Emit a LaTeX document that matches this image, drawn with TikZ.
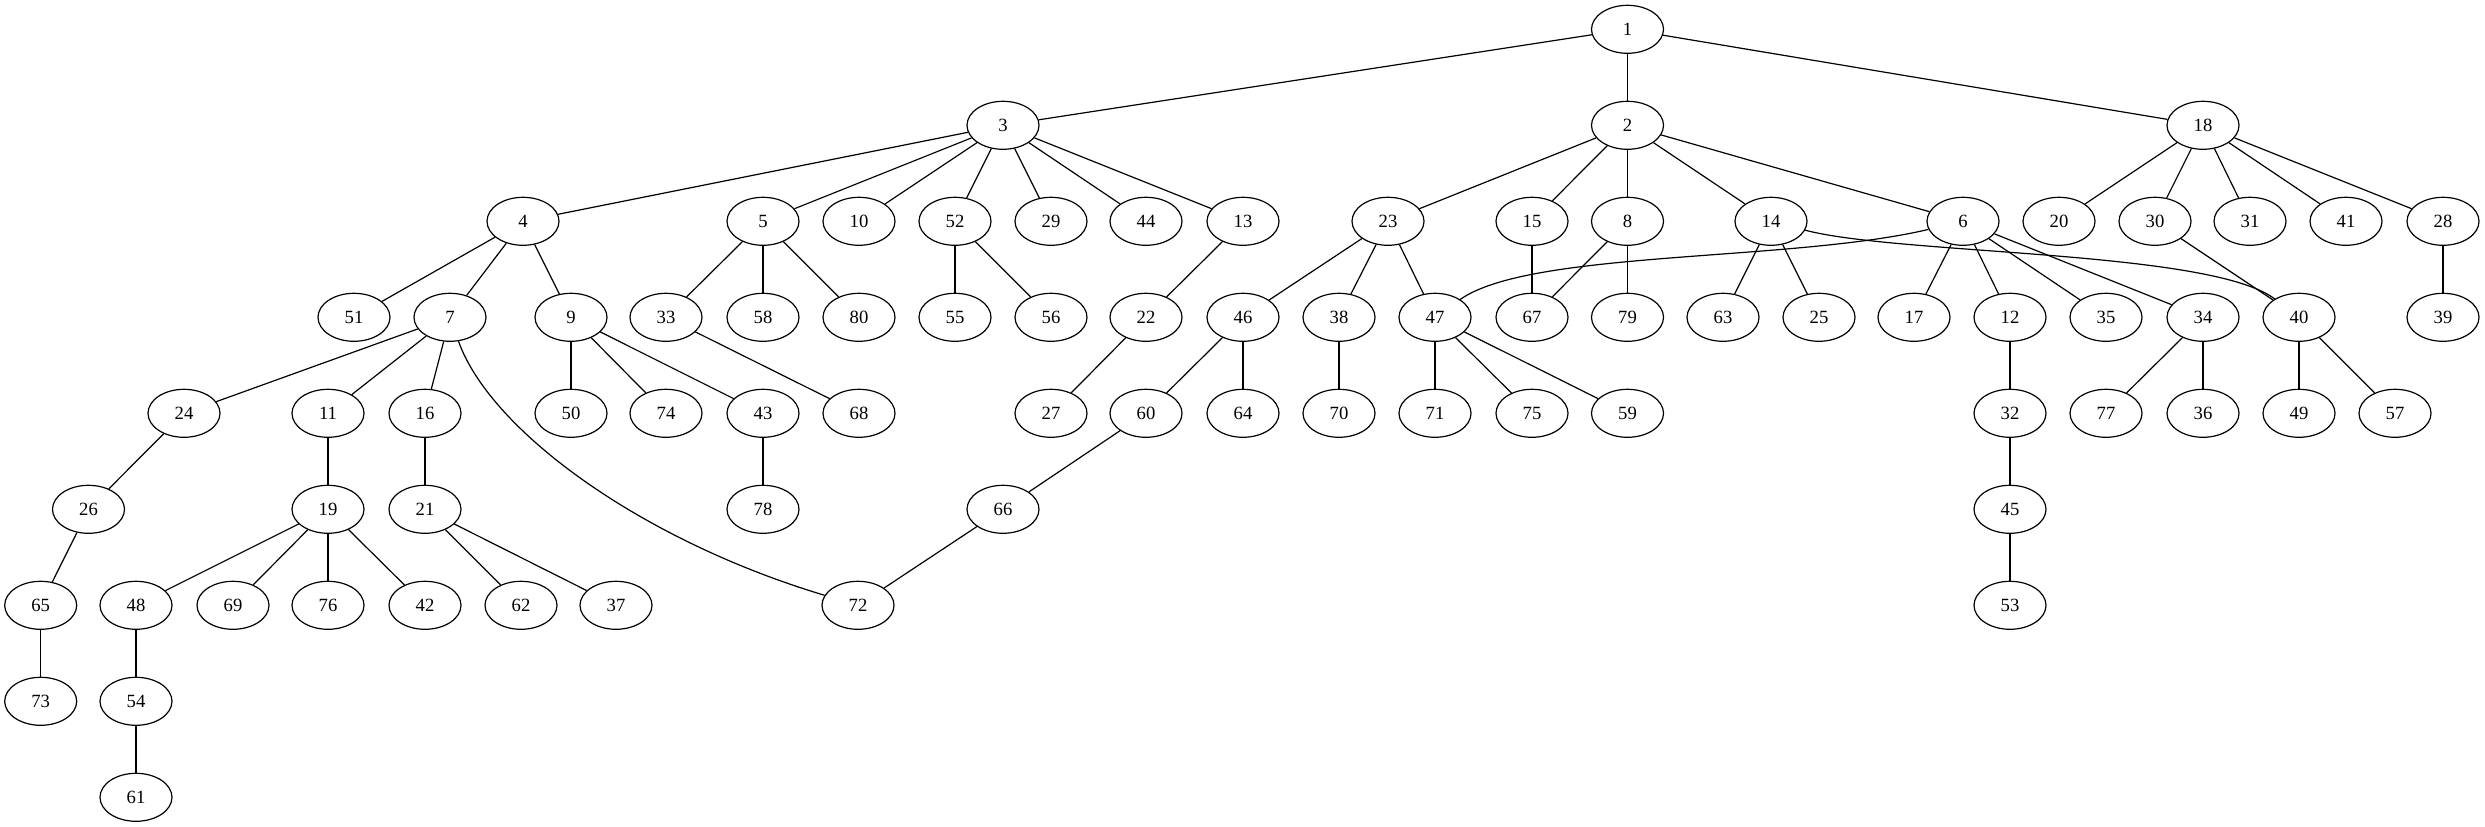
\documentclass[tikz,border=0pt]{standalone}
\usepackage{fontspec}
\setmainfont{Liberation Serif}
\usetikzlibrary{shapes.geometric}

\tikzset{
  vertex/.style={draw, ellipse, minimum width=54pt, minimum height=36pt,
                 inner sep=0pt, font=\fontsize{14}{16}\selectfont},
}

\begin{document}
\begin{tikzpicture}[x=0.75pt, y=-0.75pt, line width=0.9pt]
        \useasboundingbox (0,0) rectangle (2485,827);

        % Nodes (name/x/rank)
        \foreach \n/\x/\r in {1/1627.5/0,
            3/1003/1, 2/1627.5/1, 18/2203/1,
            4/523/2, 5/763/2, 10/859/2, 52/955/2, 29/1051/2, 44/1146/2, 13/1243/2,
            23/1388/2, 15/1532/2, 8/1627.5/2, 14/1771/2, 6/1963/2, 20/2059/2,
            30/2155/2, 31/2250/2, 41/2346/2, 28/2443/2,
            51/354/3, 7/450/3, 9/571/3, 33/666/3, 58/763/3, 80/859/3, 55/955/3,
            56/1051/3, 22/1146/3, 46/1243/3, 38/1339/3, 47/1435/3, 67/1532/3,
            79/1627.5/3, 63/1723/3, 25/1819/3, 17/1914/3, 12/2010/3, 35/2106/3,
            34/2203/3, 40/2299/3, 39/2443/3,
            24/184/4, 11/328/4, 16/425/4, 50/571/4, 74/666/4, 43/763/4, 68/859/4,
            27/1051/4, 60/1146/4, 64/1243/4, 70/1339/4, 71/1435/4, 75/1532/4,
            59/1627.5/4, 32/2010/4, 77/2106/4, 36/2203/4, 49/2299/4, 57/2395/4,
            26/88.5/5, 19/328/5, 21/425/5, 78/763/5, 66/1003/5, 45/2010/5,
            65/40.7/6, 48/136/6, 69/233/6, 76/328/6, 42/425/6, 62/521/6, 37/616/6,
            72/858/6, 53/2010/6,
            73/40.7/7, 54/136/7,
            61/136/8}
            \node[vertex] (n\n) at (\x, 29.3+96*\r) {\n};

        % Edges
        \foreach \a/\b in {1/3, 1/2, 1/18,
            3/4, 3/5, 3/10, 3/52, 3/29, 3/44, 3/13,
            2/23, 2/15, 2/8, 2/14, 2/6,
            18/20, 18/30, 18/31, 18/41, 18/28,
            4/51, 4/7, 4/9, 5/33, 5/58, 5/80, 52/55, 52/56, 13/22,
            23/46, 23/38, 23/47, 15/67, 8/67, 8/79, 14/63, 14/25,
            6/17, 6/12, 6/35, 6/34, 30/40, 28/39,
            7/24, 7/11, 7/16, 9/50, 9/74, 9/43, 33/68, 22/27,
            46/60, 46/64, 38/70, 47/71, 47/75, 47/59, 12/32,
            34/77, 34/36, 40/49, 40/57,
            24/26, 11/19, 16/21, 43/78, 60/66, 32/45,
            26/65, 19/48, 19/69, 19/76, 19/42, 21/62, 21/37, 66/72, 45/53,
            65/73, 48/54, 54/61}
            \draw (n\a) -- (n\b);

        % Long edges
        \draw (n6) .. controls (1790,262) and (1530,250) .. (n47);
        \draw (n14) .. controls (1900,255) and (2210,250) .. (n40);
        \draw (n7) .. controls (490,430) and (640,540) .. (n72);
\end{tikzpicture}
\end{document}
